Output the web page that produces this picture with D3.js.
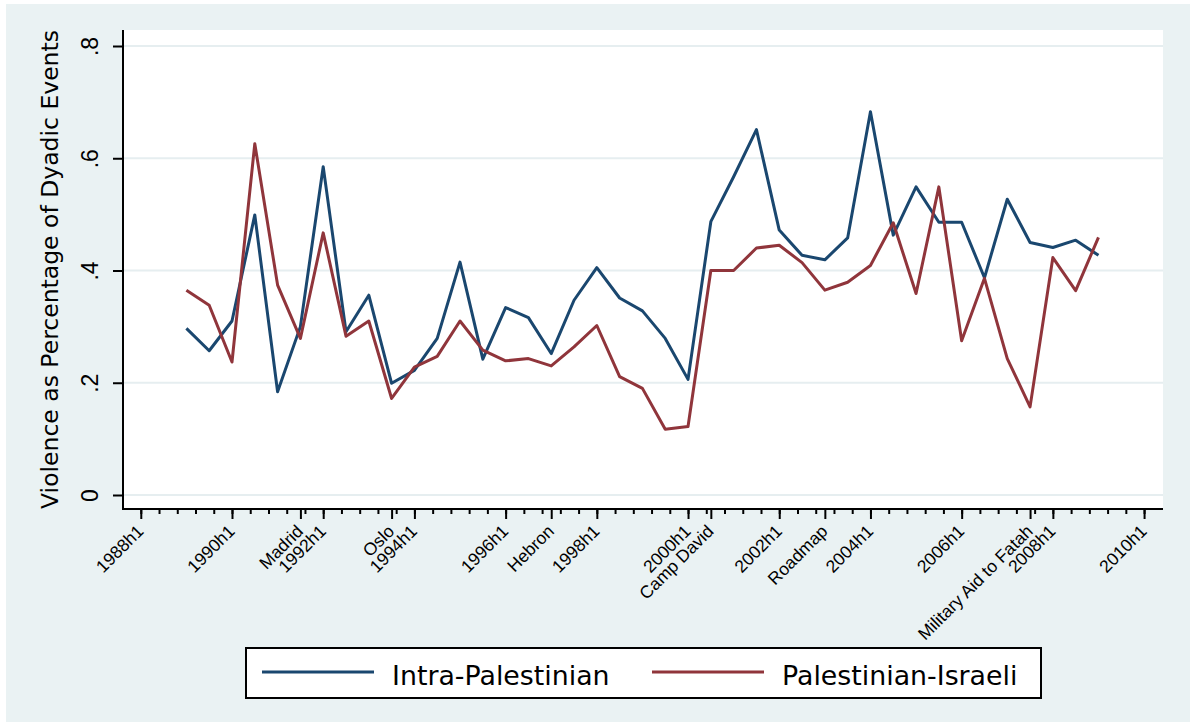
<!DOCTYPE html>
<html>
<head>
<meta charset="utf-8">
<script src="https://d3js.org/d3.v7.min.js"></script>
<style>
  body { margin: 0; background: #fff; }
  svg { display: block; font-family: "DejaVu Sans", sans-serif; }
</style>
</head>
<body>
<svg id="chart" width="1195" height="727"></svg>
<script>
// half-year periods of the two series
const periods = [
  "1989h1", "1989h2", "1990h1", "1990h2", "1991h1", "1991h2", "1992h1", "1992h2",
  "1993h1", "1993h2", "1994h1", "1994h2", "1995h1", "1995h2", "1996h1", "1996h2",
  "1997h1", "1997h2", "1998h1", "1998h2", "1999h1", "1999h2", "2000h1", "2000h2",
  "2001h1", "2001h2", "2002h1", "2002h2", "2003h1", "2003h2", "2004h1", "2004h2",
  "2005h1", "2005h2", "2006h1", "2006h2", "2007h1", "2007h2", "2008h1", "2008h2",
  "2009h1"
];

const intraPalestinian = [
  0.297, 0.257, 0.310, 0.499, 0.184, 0.300, 0.585, 0.291, 0.356, 0.199, 0.222,
  0.279, 0.415, 0.242, 0.334, 0.316, 0.252, 0.347, 0.405, 0.351, 0.328, 0.279,
  0.206, 0.487, 0.567, 0.651, 0.472, 0.427, 0.419, 0.458, 0.683, 0.463, 0.549,
  0.486, 0.486, 0.387, 0.527, 0.450, 0.441, 0.454, 0.427
];

const palestinianIsraeli = [
  0.365, 0.338, 0.237, 0.626, 0.374, 0.279, 0.467, 0.283, 0.310, 0.172, 0.228,
  0.247, 0.310, 0.258, 0.239, 0.243, 0.230, 0.264, 0.302, 0.211, 0.190, 0.117,
  0.122, 0.400, 0.400, 0.440, 0.445, 0.414, 0.365, 0.379, 0.409, 0.485, 0.359,
  0.549, 0.275, 0.386, 0.243, 0.157, 0.423, 0.364, 0.459
];

const seriesNames = ["Intra-Palestinian", "Palestinian-Israeli"];
const seriesColors = ["#1a476f", "#90353b"];

const yearTicks = ["1988h1", "1990h1", "1992h1", "1994h1", "1996h1", "1998h1",
                   "2000h1", "2002h1", "2004h1", "2006h1", "2008h1", "2010h1"];
const eventNames = ["Madrid", "Oslo", "Hebron", "Camp David", "Roadmap", "Military Aid to Fatah"];
const eventPeriods = ["1991h2", "1993h2", "1997h1", "2000h2", "2003h1", "2007h2"];
const yTicks = [0, 0.2, 0.4, 0.6, 0.8];

// "1994h2" -> running half-year number
function halfIndex(p) {
  const parts = p.split("h");
  return +parts[0] * 2 + (+parts[1] - 1);
}

const svg = d3.select("#chart");
const plot = {left: 123, right: 1163, top: 30, bottom: 509};

// graph region
svg.append("rect").attr("x", 6).attr("y", 4).attr("width", 1184).attr("height", 718)
  .attr("fill", "#eaf2f3");
svg.append("rect").attr("x", plot.left).attr("y", plot.top)
  .attr("width", plot.right - plot.left).attr("height", plot.bottom - plot.top)
  .attr("fill", "#fff");

const t0 = halfIndex("1988h1");
const x = d3.scaleLinear().domain([t0 - 0.78, t0 + 44.83]).range([plot.left, plot.right]);
const y = d3.scaleLinear().domain([0, 0.8]).range([495, 46]);

// grid
svg.append("g").selectAll("line").data(yTicks).join("line")
  .attr("x1", plot.left).attr("x2", plot.right)
  .attr("y1", d => y(d)).attr("y2", d => y(d))
  .attr("stroke", "#e6eef0").attr("stroke-width", 2);

// series
const line = d3.line().x((d, i) => x(halfIndex(periods[i]))).y(d => y(d));
[intraPalestinian, palestinianIsraeli].forEach((vals, k) => {
  svg.append("path").datum(vals).attr("d", line)
    .attr("fill", "none").attr("stroke", seriesColors[k])
    .attr("stroke-width", 3).attr("stroke-linejoin", "round");
});

// y axis
const yAxis = svg.append("g").attr("transform", `translate(${plot.left},0)`)
  .call(d3.axisLeft(y).tickValues(yTicks).tickSize(10).tickSizeOuter(0)
    .tickFormat(d => d === 0 ? "0" : String(+d.toFixed(1)).replace(/^0/, "")));
yAxis.select(".domain").remove();
yAxis.selectAll(".tick line").attr("stroke", "#000").attr("stroke-width", 2);
yAxis.selectAll(".tick text")
  .attr("x", 0).attr("dy", 0)
  .attr("text-anchor", "middle")
  .attr("transform", "translate(-25,0) rotate(-90)")
  .attr("font-size", 23).attr("fill", "#000");

svg.append("text")
  .attr("transform", `translate(58,${(plot.top + plot.bottom) / 2}) rotate(-90)`)
  .attr("text-anchor", "middle").attr("font-size", 23.5)
  .text("Violence as Percentage of Dyadic Events");

// x axis: minor ticks, year ticks, event ticks
const minor = d3.range(0, 44.01, 0.8).map(v => t0 + v);
const gMinor = svg.append("g").attr("transform", `translate(0,${plot.bottom})`)
  .call(d3.axisBottom(x).tickValues(minor).tickSize(5).tickFormat(""));
gMinor.select(".domain").remove();

function styleLabels(g) {
  g.select(".domain").remove();
  g.selectAll(".tick text")
    .attr("x", 0).attr("y", 0).attr("dy", "0.35em")
    .attr("text-anchor", "end")
    .attr("transform", "translate(-1,19) rotate(-45)")
    .attr("font-size", 17.5).attr("fill", "#000");
}

const gYears = svg.append("g").attr("transform", `translate(0,${plot.bottom})`)
  .call(d3.axisBottom(x).tickValues(yearTicks.map(halfIndex)).tickSize(10)
    .tickFormat(d => Math.floor(d / 2) + "h" + (d % 2 + 1)));
styleLabels(gYears);

const gEvents = svg.append("g").attr("transform", `translate(0,${plot.bottom})`)
  .call(d3.axisBottom(x).tickValues(eventPeriods.map(halfIndex)).tickSize(10)
    .tickFormat((d, i) => eventNames[i]));
styleLabels(gEvents);

svg.selectAll(".tick line").attr("stroke", "#000").attr("stroke-width", 2);

svg.append("line").attr("x1", plot.left - 1).attr("x2", plot.right)
  .attr("y1", plot.bottom).attr("y2", plot.bottom)
  .attr("stroke", "#000").attr("stroke-width", 2);
svg.append("line").attr("x1", plot.left).attr("x2", plot.left)
  .attr("y1", plot.top).attr("y2", plot.bottom)
  .attr("stroke", "#000").attr("stroke-width", 2);

// legend
const legend = svg.append("g");
legend.append("rect").attr("x", 246).attr("y", 648).attr("width", 795).attr("height", 50)
  .attr("fill", "#fff").attr("stroke", "#000").attr("stroke-width", 2);
const legendX = [262, 652];
seriesNames.forEach((name, k) => {
  legend.append("line")
    .attr("x1", legendX[k]).attr("x2", legendX[k] + 112)
    .attr("y1", 672).attr("y2", 672)
    .attr("stroke", seriesColors[k]).attr("stroke-width", 3);
  legend.append("text").attr("x", legendX[k] + 130).attr("y", 685)
    .attr("font-size", 26.8).text(name);
});
</script>
</body>
</html>
